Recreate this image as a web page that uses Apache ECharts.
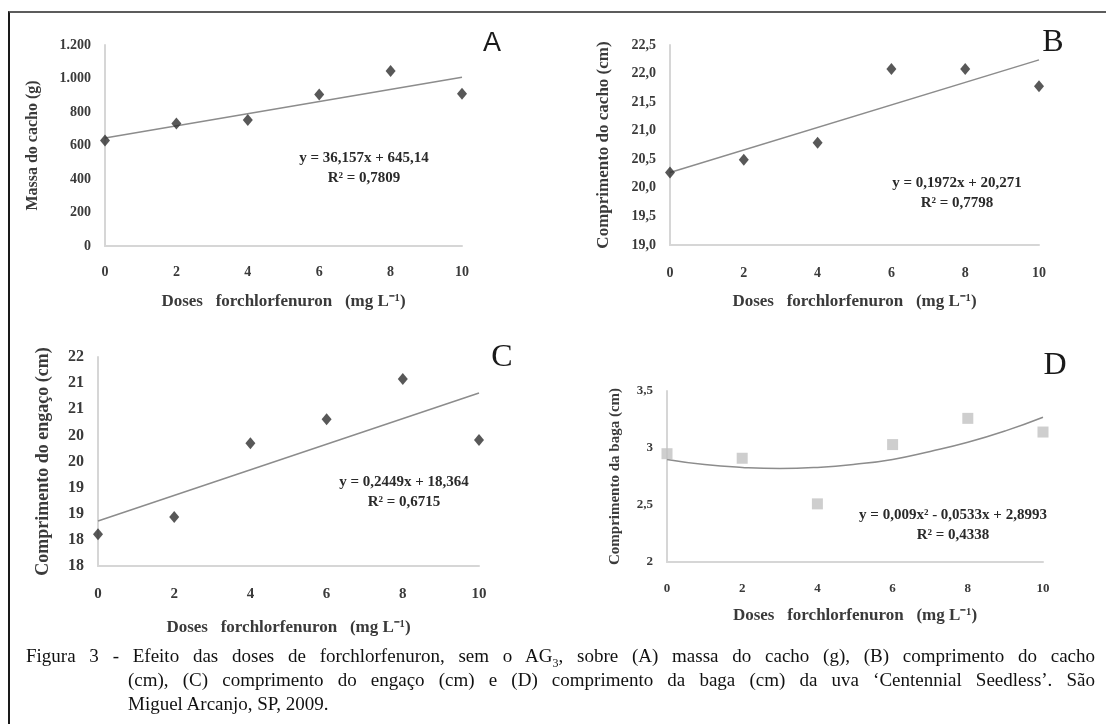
<!DOCTYPE html>
<html>
<head>
<meta charset="utf-8">
<script src="https://cdn.jsdelivr.net/npm/echarts@6/dist/echarts.min.js"></script>
<style>
  body { margin: 0; background: #fff; }
  #wrap { position: relative; width: 1106px; height: 724px; overflow: hidden; }
  #chartsId { position: absolute; left: 0; top: 0; width: 1106px; height: 724px; }
  #frame { position: absolute; left: 8px; top: 11px; width: 1110px; height: 730px;
           border-top: 2px solid #5c5c5c; border-left: 2px solid #1a1a1a; }
  #caption { position: absolute; left: 26px; top: 644px; width: 1069px;
             font-family: 'Liberation Serif', serif; font-size: 19px; line-height: 24px; color: #111; }
  #caption div { text-align: justify; text-align-last: justify; }
  #caption div.ind { padding-left: 102px; }
  #caption div.last { text-align-last: left; }
</style>
</head>
<body>
<div id="wrap">
  <div id="chartsId"></div>
  <div id="frame"></div>
  <div id="caption">
    <div>Figura 3 - Efeito das doses de forchlorfenuron, sem o AG<sub style="font-size:12px;line-height:0">3</sub>, sobre (A) massa do cacho (g), (B) comprimento do cacho</div>
    <div class="ind">(cm), (C) comprimento do engaço (cm) e (D) comprimento da baga (cm) da uva ‘Centennial Seedless’. São</div>
    <div class="ind last">Miguel Arcanjo, SP, 2009.</div>
  </div>
</div>
<script>
  // doses de forchlorfenuron (mg L-1)
  const doses = [0, 2, 4, 6, 8, 10]
  // valores
  const massaCacho = [630, 732, 752, 905, 1045, 909]
  const comprCacho = [20.27, 20.49, 20.79, 22.08, 22.08, 21.78]
  const comprEngaco = [18.11, 18.44, 19.85, 20.31, 21.08, 19.91]
  const comprBaga = [2.95, 2.91, 2.51, 3.03, 3.26, 3.14]

  // linhas de tendência
  const trendX = [0, 10]
  const trendA = [645, 1007]
  const trendB = [20.27, 22.24]
  const trendC = [18.36, 20.81]
  const trendDX = [0, 1, 2, 3, 4, 5, 6, 7, 8, 9, 10]
  const trendD = [2.90, 2.855, 2.83, 2.82, 2.83, 2.857, 2.90, 2.97, 3.05, 3.15, 3.27]

  const xName = 'Doses   forchlorfenuron   (mg L⁻¹)'
  const serif = 'Liberation Serif'
  const ink = '#3a3a3a'
  const axisGrey = '#d6d6d6'

  const pairs = (xs, ys) => xs.map((x, i) => [x, ys[i]])

  const xAxisBase = (idx, gap, margin, fs) => ({
    type: 'value', gridIndex: idx, min: 0, max: 10, interval: 2,
    name: xName, nameLocation: 'middle', nameGap: gap,
    nameTextStyle: { fontFamily: serif, fontWeight: 'bold', fontSize: 17, color: ink },
    axisLine: { show: true, lineStyle: { color: axisGrey, width: 2 } },
    axisTick: { show: false }, splitLine: { show: false },
    axisLabel: { margin: margin, fontFamily: serif, fontWeight: 'bold', fontSize: fs, color: ink }
  })

  const yAxisBase = (idx, name, gap, min, max, interval, fmt, fs, nfs) => ({
    type: 'value', gridIndex: idx, min: min, max: max, interval: interval,
    name: name, nameLocation: 'middle', nameGap: gap, nameRotate: 90,
    nameTextStyle: { fontFamily: serif, fontWeight: 'bold', fontSize: nfs, color: ink },
    axisLine: { show: true, lineStyle: { color: axisGrey, width: 2 } },
    axisTick: { show: false }, splitLine: { show: false },
    axisLabel: { margin: 14, fontFamily: serif, fontWeight: 'bold', fontSize: fs, color: ink, formatter: fmt }
  })

  const ptsStyle = { color: '#2e2e2e' }
  const trendStyle = { color: '#8c8c8c', width: 1.5 }

  const eqText = (x, y, lines) => ({
    type: 'text', x: x, y: y,
    style: { text: lines, font: 'bold 15px "Liberation Serif"', fill: '#2a2a2a',
             align: 'center', verticalAlign: 'middle', lineHeight: 20 }
  })
  const letter = (x, y, t, font) => ({
    type: 'text', x: x, y: y,
    style: { text: t, font: font, fill: '#1a1a1a', align: 'center', verticalAlign: 'middle' }
  })

  const option = {
    animation: false,
    grid: [
      { left: 105, top: 45, width: 357, height: 201 },
      { left: 670, top: 45, width: 369, height: 200 },
      { left: 98, top: 357, width: 381, height: 209 },
      { left: 667, top: 391, width: 376, height: 171 }
    ],
    xAxis: [
      xAxisBase(0, 47, 19, 14),
      xAxisBase(1, 48, 21, 14),
      xAxisBase(2, 53, 21, 15),
      xAxisBase(3, 45, 20, 13)
    ],
    yAxis: [
      yAxisBase(0, 'Massa do cacho (g)', 64, 0, 1200, 200,
        v => v >= 1000 ? Math.floor(v / 1000) + '.' + String(v % 1000).padStart(3, '0') : String(v), 14, 16),
      yAxisBase(1, 'Comprimento do cacho (cm)', 58, 19, 22.5, 0.5,
        v => v.toFixed(1).replace('.', ','), 14, 17),
      yAxisBase(2, 'Comprimento do engaço (cm)', 46, 17.5, 21.5, 0.5,
        v => String(Math.round(v)), 16, 18),
      yAxisBase(3, 'Comprimento da baga (cm)', 44, 2, 3.5, 0.5,
        v => String(v).replace('.', ','), 13, 15)
    ],
    series: [
      { type: 'scatter', xAxisIndex: 0, yAxisIndex: 0, data: pairs(doses, massaCacho), symbol: 'diamond', symbolSize: [10, 12], itemStyle: ptsStyle, z: 3 },
      { type: 'line', xAxisIndex: 0, yAxisIndex: 0, data: pairs(trendX, trendA), showSymbol: false, lineStyle: trendStyle },
      { type: 'scatter', xAxisIndex: 1, yAxisIndex: 1, data: pairs(doses, comprCacho), symbol: 'diamond', symbolSize: [10, 12], itemStyle: ptsStyle, z: 3 },
      { type: 'line', xAxisIndex: 1, yAxisIndex: 1, data: pairs(trendX, trendB), showSymbol: false, lineStyle: trendStyle },
      { type: 'scatter', xAxisIndex: 2, yAxisIndex: 2, data: pairs(doses, comprEngaco), symbol: 'diamond', symbolSize: [10, 12], itemStyle: ptsStyle, z: 3 },
      { type: 'line', xAxisIndex: 2, yAxisIndex: 2, data: pairs(trendX, trendC), showSymbol: false, lineStyle: trendStyle },
      { type: 'scatter', xAxisIndex: 3, yAxisIndex: 3, data: pairs(doses, comprBaga), symbol: 'rect', symbolSize: 11, itemStyle: { color: '#c2c2c2' }, z: 3 },
      { type: 'line', xAxisIndex: 3, yAxisIndex: 3, data: pairs(trendDX, trendD), showSymbol: false, smooth: true, lineStyle: trendStyle }
    ],
    graphic: [
      eqText(364, 168, 'y = 36,157x + 645,14\nR² = 0,7809'),
      eqText(957, 193, 'y = 0,1972x + 20,271\nR² = 0,7798'),
      eqText(404, 492, 'y = 0,2449x + 18,364\nR² = 0,6715'),
      eqText(953, 525, 'y = 0,009x² - 0,0533x + 2,8993\nR² = 0,4338'),
      letter(492, 44, 'A', '27px "Liberation Sans"'),
      letter(1053, 43, 'B', '32px "Liberation Serif"'),
      letter(502, 358, 'C', '32px "Liberation Serif"'),
      letter(1055, 366, 'D', '32px "Liberation Serif"')
    ]
  }

  const chartDom = document.getElementById('chartsId')
  const myChart = echarts.init(chartDom)
  option && myChart.setOption(option)
</script>
</body>
</html>
